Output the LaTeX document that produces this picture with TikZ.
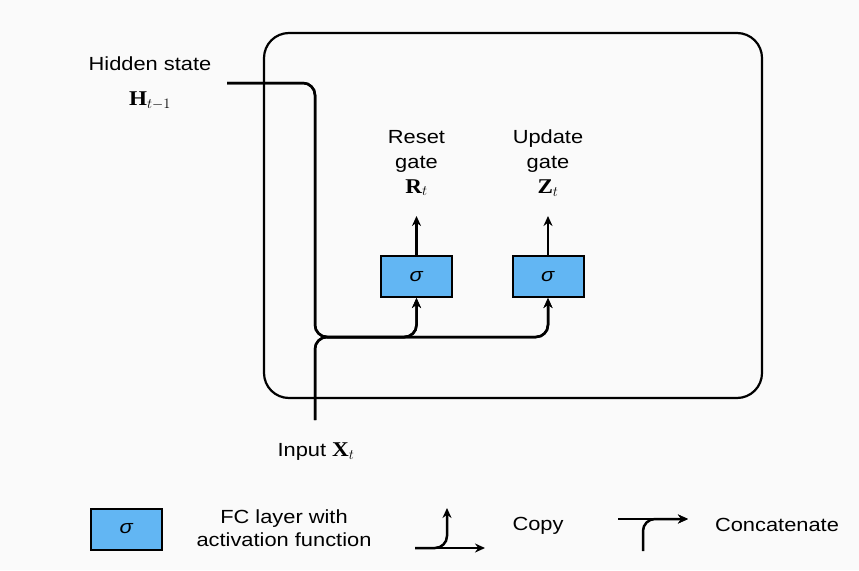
\documentclass[tikz,border=0pt]{standalone}
\usepackage[no-math]{fontspec}
\setmainfont[FakeStretch=1.15]{Liberation Sans}
\newfontfamily\mser[FakeStretch=1.1]{Liberation Serif}
\newcommand{\bv}[1]{{\mser\bfseries\fontsize{21}{25}\selectfont #1}}
\usetikzlibrary{arrows.meta}
\definecolor{bg}{RGB}{250,250,250}
\definecolor{fcblue}{RGB}{98,182,243}
\begin{document}
\begin{tikzpicture}[x=1pt,y=-1pt,
  lbl/.style={font=\fontsize{19}{25}\selectfont, align=center, inner sep=0pt},
  fc/.style={draw=black, line width=2pt, fill=fcblue, minimum width=71pt, minimum height=41pt, inner sep=0pt, font=\fontsize{19}{24}\selectfont},
  wire/.style={line width=2.5pt, rounded corners=12pt},
  arr/.style={wire, -{Stealth[length=10pt,width=9pt]}}
]
\fill[bg] (0,0) rectangle (859,570);
\useasboundingbox (0,0) rectangle (859,570);

% cell
\node[draw, line width=2.2pt, rounded corners=25pt, minimum width=498pt, minimum height=365pt, inner sep=0pt] (cell) at (513,215.5) {};

% gates
\node[fc] (reset) at (416.5,276.5) {\textit{σ}};
\node[fc] (update) at (548,276.5) {\textit{σ}};
\node[lbl] (rlbl) at (416.5,163) {Reset\\gate\\\bv{R}$_t$};
\node[lbl] (zlbl) at (548,163) {Update\\gate\\\bv{Z}$_t$};
\coordinate (rt) at (416.5,216);
\coordinate (zt) at (548,216);
\draw[arr] (reset.north) -- (rt);
\draw[arr] (update.north) -- (zt);

% inputs
\node[lbl] (hid) at (150,64) {Hidden state};
\node[lbl] (hidm) at (150,101) {\bv{H}$_{t-1}$};
\node[lbl] (inp) at (316,452) {Input \bv{X}$_t$};
\coordinate (hs) at (227,83);
\coordinate (hc) at (315,83);
\coordinate (j) at (315,337);
\coordinate (xs) at (315,420);
\draw[arr] (hs) -- (hc) -- (j) -- (reset.south |- j) -- (reset.south);
\draw[arr] (hs) -- (hc) -- (j) -- (update.south |- j) -- (update.south);
\draw[arr] (xs) -- (j) -- (reset.south |- j) -- (reset.south);
\draw[arr] (xs) -- (j) -- (update.south |- j) -- (update.south);

% legend
\node[fc] (lfc) at (126.5,529) {\textit{σ}};
\node[lbl, font=\fontsize{19}{23}\selectfont] (lfct) at (284,528) {FC layer with\\activation function};
\coordinate (ca) at (415,548);
\coordinate (cb) at (485,548);
\coordinate (cc) at (447,548);
\coordinate (cd) at (447,508);
\draw[arr] (ca) -- (cb);
\draw[arr] (ca) -- (cc) -- (cd);
\node[lbl] (copy) at (538,526) {Copy};
\coordinate (ka) at (618,519);
\coordinate (kb) at (688,519);
\coordinate (kc) at (643,551);
\coordinate (kd) at (643,519);
\draw[arr] (ka) -- (kb);
\draw[arr] (kc) -- (kd) -- (kb);
\node[lbl] (cat) at (777,525) {Concatenate};
\end{tikzpicture}
\end{document}
